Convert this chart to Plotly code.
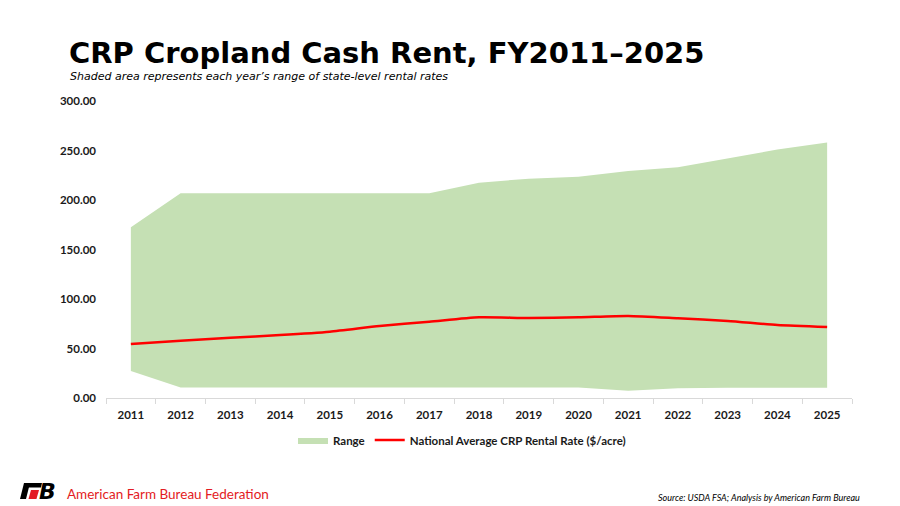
import plotly.graph_objects as go

# --- Data ---
years = [str(y) for y in range(2011, 2026)]
range_low = [27.3, 10.5, 10.5, 10.5, 10.5, 10.5, 10.5, 10.5, 10.5, 10.5, 7.4, 9.8, 10.4, 10.4, 10.4]
range_high = [172.4, 206.7, 206.7, 206.7, 206.7, 206.7, 206.7, 217.5, 221.5, 223.6, 229.3, 233.0, 242.0, 251.0, 258.0]
national_avg = [54.5, 57.9, 60.9, 63.6, 67.0, 72.7, 77.0, 81.5, 80.8, 81.5, 82.8, 80.5, 77.8, 73.7, 71.7]

# --- Style ---
FILL_COLOR = '#C5E0B4'
LINE_COLOR = '#FF0000'
TEXT_COLOR = '#1a1a1a'
AXIS_COLOR = '#D9D9D9'
LOGO_RED = '#E31B23'
TICK_FONT = dict(family='Lato', size=11.5, color=TEXT_COLOR)

# the page body has an 8px margin, so the figure is drawn 8px smaller and
# all pixel positions below are screen pixels shifted by OFF
OFF = 8
W, H = 900 - OFF, 506 - OFF
PL, PR, PT, PB = 106 - OFF, 852 - OFF, 101 - OFF, 398 - OFF


def px(x):
    return (x - OFF - PL) / (PR - PL)


def py(y):
    return (PB - (y - OFF)) / (PB - PT)


def poly(points):
    """SVG path in paper coords from screen-pixel points."""
    return 'M ' + ' L '.join(f'{px(x):.4f},{py(y):.4f}' for x, y in points) + ' Z'


fig = go.Figure()

# lower edge of range (invisible), then upper edge filled down to it
fig.add_trace(go.Scatter(x=years, y=range_low, mode='lines', line=dict(width=0, color=FILL_COLOR),
                         showlegend=False, hoverinfo='skip'))
fig.add_trace(go.Scatter(x=years, y=range_high, mode='lines', line=dict(width=0, color=FILL_COLOR),
                         fill='tonexty', fillcolor=FILL_COLOR, name='<b>Range</b>'))
fig.add_trace(go.Scatter(x=years, y=national_avg, mode='lines', line=dict(width=2.5, color=LINE_COLOR, shape='spline', smoothing=0.6),
                         name='<b>National Average CRP Rental Rate ($/acre)</b>'))

annotations = [
    dict(text='<b>CRP Cropland Cash Rent, FY2011\u20132025</b>', x=px(67), y=py(53), xanchor='left', yanchor='middle',
         font=dict(family='DejaVu Sans', size=29, color='#000000')),
    dict(text='<i>Shaded area represents each year\u2019s range of state-level rental rates</i>', x=px(68), y=py(77),
         xanchor='left', yanchor='middle', font=dict(family='DejaVu Sans', size=11, color='#000000')),
    dict(text='<b><i>B</i></b>', x=px(37), y=py(491), xanchor='left', yanchor='middle',
         font=dict(family='DejaVu Sans', size=22, color='#000000')),
    dict(text='American Farm Bureau Federation', x=px(65), y=py(494), xanchor='left', yanchor='middle',
         font=dict(family='Lato', size=13.5, color=LOGO_RED)),
    dict(text='<i>Source: USDA FSA; Analysis by American Farm Bureau</i>', x=px(862), y=py(497), xanchor='right',
         yanchor='middle', font=dict(family='Lato', size=9, color='#000000')),
]
for a in annotations:
    a.update(xref='paper', yref='paper', showarrow=False)

# logo: slanted F with a red stripe
logo_shapes = [
    (poly([(25, 483), (42, 483), (41, 487.5), (24, 487.5)]), '#000000'),
    (poly([(24, 483), (30, 483), (26, 499), (20, 499)]), '#000000'),
    (poly([(31, 490), (39, 490), (36.5, 499), (28.5, 499)]), LOGO_RED),
]
shapes = [dict(type='path', path=p, xref='paper', yref='paper', fillcolor=c, line=dict(width=0))
          for p, c in logo_shapes]

fig.update_layout(
    width=W, height=H,
    paper_bgcolor='white', plot_bgcolor='white',
    margin=dict(l=PL, r=W - PR, t=PT, b=H - PB),
    showlegend=True,
    legend=dict(orientation='h', x=px(462), xanchor='center', y=py(440), yanchor='middle',
                font=dict(family='Lato', size=11.5, color=TEXT_COLOR), bgcolor='rgba(0,0,0,0)',
                traceorder='normal', itemwidth=30),
    annotations=annotations,
    shapes=shapes,
    xaxis=dict(type='category', range=[-0.5, 14.5], showgrid=False, showline=True, linecolor=AXIS_COLOR, linewidth=1,
               ticks='outside', tickson='boundaries', ticklen=5, tickcolor=AXIS_COLOR, ticklabelstandoff=6,
               tickfont=TICK_FONT, tickprefix='<b>', ticksuffix='</b>'),
    yaxis=dict(range=[0, 300], dtick=50, tickformat='.2f', showgrid=False, showline=False, zeroline=False,
               tickfont=TICK_FONT, tickprefix='<b>', ticksuffix='</b>', ticks='', ticklabelstandoff=9),
)

fig.write_html("out.html")
